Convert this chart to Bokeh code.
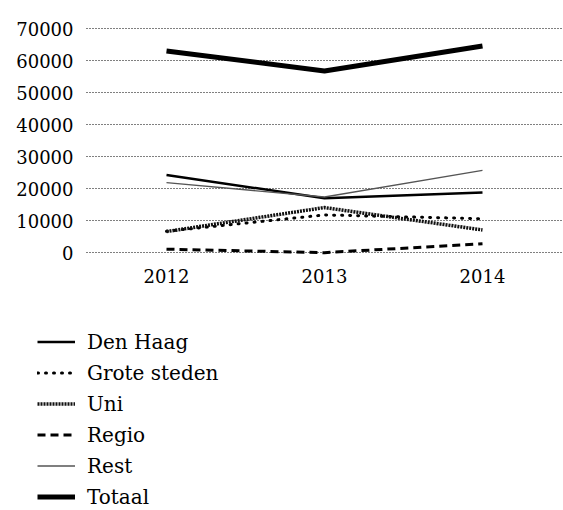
from bokeh.plotting import figure
from bokeh.models import Range1d, FixedTicker, NumeralTickFormatter, Legend, LegendItem
from bokeh.embed import file_html
from bokeh.resources import INLINE

years = [2012, 2013, 2014]
den_haag = [24400, 17100, 18900]
grote_steden = [6800, 11900, 10700]
uni = [6700, 14200, 7200]
regio = [1200, 100, 2900]
rest = [22000, 17500, 25800]
totaal = [63100, 56900, 64700]
y_ticks = [0, 10000, 20000, 30000, 40000, 50000, 60000, 70000]

FONT = "DejaVu Serif"

X0, X1 = 2010.9494, 2014.5127
Y0, Y1 = -80625 + 156, 78750 + 156
AXIS_X = 2011.4937

p = figure(width=563, height=510, x_range=Range1d(X0, X1), y_range=Range1d(Y0, Y1),
           output_backend="svg", toolbar_location=None,
           min_border_left=0, min_border_right=0, min_border_top=0, min_border_bottom=0)
p.outline_line_color = None
p.background_fill_color = "white"
p.border_fill_color = "white"

p.xgrid.visible = False
p.ygrid.grid_line_color = "black"
p.ygrid.grid_line_dash = "1 2"
p.ygrid.grid_line_width = 1
p.ygrid.cross_bounds = (AXIS_X, X1)

p.yaxis.ticker = FixedTicker(ticks=y_ticks)
p.yaxis.formatter = NumeralTickFormatter(format="0")
p.xaxis.ticker = FixedTicker(ticks=years)
p.xaxis.formatter = NumeralTickFormatter(format="0")
p.yaxis.fixed_location = AXIS_X
p.xaxis.fixed_location = -2500
for ax in (p.xaxis[0], p.yaxis[0]):
    ax.axis_line_color = None
    ax.major_tick_line_color = None
    ax.minor_tick_line_color = None
    ax.major_tick_out = 0
    ax.major_tick_in = 0
    ax.major_label_text_font = FONT
    ax.major_label_text_font_size = "18px"
    ax.major_label_text_color = "black"
p.xaxis.major_label_standoff = 8
p.yaxis.major_label_standoff = 13

r_dh = p.line(years, den_haag, line_color="black", line_width=2.5)
r_gs = p.line(years, grote_steden, line_color="black", line_width=3, line_dash="1 7", line_cap="round")
r_uni = p.line(years, uni, line_color="#111111", line_width=3.5, line_dash="2 1")
r_reg = p.line(years, regio, line_color="black", line_width=3, line_dash="8 5")
r_rest = p.line(years, rest, line_color="#555555", line_width=1.3)
r_tot = p.line(years, totaal, line_color="black", line_width=5)

legend = Legend(items=[
    LegendItem(label="Den Haag", renderers=[r_dh]),
    LegendItem(label="Grote steden", renderers=[r_gs]),
    LegendItem(label="Uni", renderers=[r_uni]),
    LegendItem(label="Regio", renderers=[r_reg]),
    LegendItem(label="Rest", renderers=[r_rest]),
    LegendItem(label="Totaal", renderers=[r_tot]),
], location=(37, -2))
legend.margin = 0
legend.padding = 0
legend.border_line_color = None
legend.background_fill_alpha = 0
legend.glyph_width = 38
legend.glyph_height = 31
legend.label_height = 31
legend.spacing = 0
legend.label_standoff = 12
legend.label_text_font = FONT
legend.label_text_font_size = "20px"
legend.label_text_color = "black"
p.add_layout(legend, "center")

open("out.html", "w").write(file_html(p, INLINE))
